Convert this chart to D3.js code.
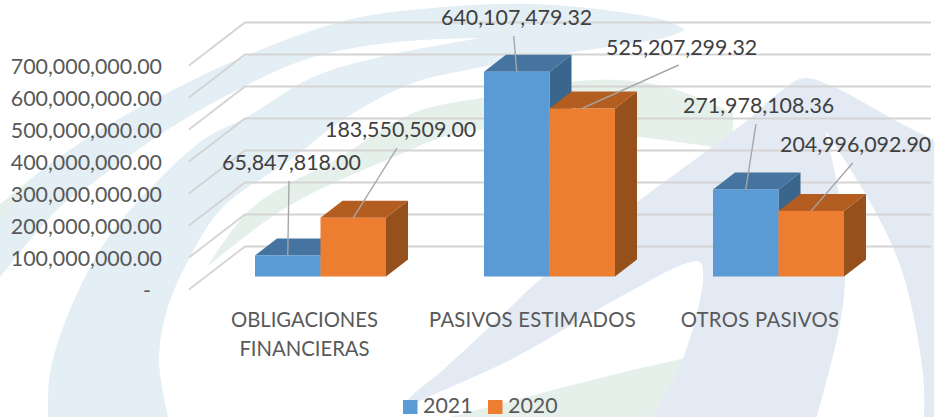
<!DOCTYPE html>
<html><head><meta charset="utf-8">
<script src="https://cdn.jsdelivr.net/npm/d3@7"></script>
<style>html,body{margin:0;padding:0;background:#fff}svg{display:block}text{font-family:Lato,"Open Sans",sans-serif}</style>
</head><body><svg id="c" width="934" height="417"></svg>
<script>
const categories = ["OBLIGACIONES FINANCIERAS","PASIVOS ESTIMADOS","OTROS PASIVOS"];
const seriesNames = ["2021","2020"];
const values2021 = [65847818.00,640107479.32,271978108.36];
const values2020 = [183550509.00,525207299.32,204996092.90];
const yTicks = [0,100000000,200000000,300000000,400000000,500000000,600000000,700000000];
const seriesColors = {
  "2021":{front:"#5b9bd5",top:"#44749f",side:"#3a658c"},
  "2020":{front:"#ed7d31",top:"#b35e20",side:"#96501b"}
};
// layout of data labels: [left, baseline, leader start x, leader start y]
const labelLayout = {
  "2021":[[222,170,289,181],[441,25,513.7,36],[683,113,756,124]],
  "2020":[[325,137,397,148],[606,55,678.7,65],[780,152,852.7,163]]
};
const categoryLabelCenters = [304.5,532.5,760];
const categoryLabelSpacing = [0,0.24,0.3];
const categoryLabelLines = [["OBLIGACIONES","FINANCIERAS"],["PASIVOS ESTIMADOS"],["OTROS PASIVOS"]];

// decorative watermark outlines: each shape is a list of smooth edges
const wmCorner = [[[0,204],[33,178]],[[33,178],[12,206],[0,219]]];
const wmBlue = [
  [[0,207],[33,177],[100,130],[167,93],[243,57],[347,20],[433,8],[533,4],[620,12],[670,22],[685,30]],
  [[685,30],[667,37],[567,53],[467,70],[413,83],[347,117],[290,160],[223,207],[190,257],[167,310],[159,360],[168,417]],
  [[168,417],[48,417]],
  [[48,417],[50,373],[67,317],[100,250],[133,207],[203,140],[247,117],[313,77],[380,57],[480,38]],
  [[480,38],[397,42],[313,57],[243,87],[167,130],[83,190],[60,207],[0,277]]
];
const wmGreen = [
  [[207,267],[253,207],[340,157],[413,113],[487,97],[594,80],[667,87],[733,113]],
  [[733,113],[733,150]],
  [[733,150],[600,133],[467,131],[387,160],[287,207],[207,267]]
];
const wmGreenLow = [[[450,417],[620,373],[690,357]],[[690,357],[653,417]]];
const wmGrey = [
  [[404,411],[408,400],[443,370],[497,320],[543,277],[640,200],[744,123],[785,88],[804,78],[834,87],[900,123],[934,140]],
  [[934,140],[934,417]],
  [[934,417],[924,417]],
  [[924,417],[923,374],[903,274],[873,207],[825,130]],
  [[825,130],[840,200],[845,277],[840,324],[817,417]],
  [[817,417],[653,417]],
  [[653,417],[683,359],[703,280],[700,262],[687,263],[620,297],[510,360],[412,405],[404,411]]
];

const svg = d3.select("#c");
const bg = svg.append("g");
const smooth = d3.line().curve(d3.curveCatmullRom.alpha(0.5));
const shapePath = edges => edges.map((e,i)=>{
  const d = smooth(e);
  return i===0 ? d : "L"+d.slice(1);
}).join("")+"Z";
[[wmBlue,"#e3eef5"],[wmCorner,"#e6f0eb"],[wmGreen,"#e6f0eb"],[wmGreenLow,"#e6f0eb"],[wmGrey,"#e3eaf3"]].forEach(([p,c])=>{
  bg.append("path").attr("d",shapePath(p)).attr("fill",c);
});

const y = d3.scaleLinear().domain([0,700000000]).range([276.5,52.5]);
const x0 = d3.scaleBand().domain(categories).range([255,844]).paddingInner(98/229).paddingOuter(0);
const x1 = d3.scaleBand().domain(seriesNames).range([0,x0.bandwidth()]);
const barDx = 22, barDy = -17;

// grid
const grid = svg.append("g").attr("fill","none").attr("stroke","#d5d3d3").attr("stroke-width",1.8);
yTicks.forEach(t=>{
  const yy = y(t);
  grid.append("path").attr("d",d3.line()([[189,yy+13],[245,yy-30],[931,yy-30]]));
});

// y axis labels
const fmt = d3.format(",.2f");
const axisG = svg.append("g").attr("fill","#595959").attr("font-size",21.4).attr("text-anchor","end");
yTicks.forEach(t=>{
  axisG.append("text").attr("x",t===0?151:162).attr("y",y(t)+21.5).text(t===0?"-":fmt(t));
});

// bars
categories.forEach((cat,ci)=>{
  seriesNames.forEach(s=>{
    const v = (s==="2021"?values2021:values2020)[ci];
    const c = seriesColors[s];
    const l = x0(cat)+x1(s), r = l+x1.bandwidth(), t = y(v), b = y(0);
    const g = svg.append("g");
    g.append("path").attr("fill",c.side).attr("d",d3.line()([[r,t],[r+barDx,t+barDy],[r+barDx,b+barDy],[r,b]])+"Z");
    g.append("path").attr("fill",c.top).attr("d",d3.line()([[l,t],[l+barDx,t+barDy],[r+barDx,t+barDy],[r,t]])+"Z");
    g.append("rect").attr("x",l).attr("y",t).attr("width",r-l).attr("height",b-t).attr("fill",c.front);
  });
});

// leaders and value labels
categories.forEach((cat,ci)=>{
  seriesNames.forEach(s=>{
    const v = (s==="2021"?values2021:values2020)[ci];
    const [lx,ly,sx,sy] = labelLayout[s][ci];
    const cx = x0(cat)+x1(s)+x1.bandwidth()/2;
    svg.append("line").attr("x1",sx).attr("y1",sy).attr("x2",cx).attr("y2",y(v))
      .attr("stroke","#a6a6a6").attr("stroke-width",1.4);
    svg.append("text").attr("x",lx).attr("y",ly).attr("fill","#404040").attr("font-size",21.4).text(fmt(v));
  });
});

// category labels
categoryLabelLines.forEach((lines,i)=>{
  lines.forEach((ln,j)=>{
    svg.append("text").attr("x",categoryLabelCenters[i]).attr("y",327+j*29).attr("text-anchor","middle")
      .attr("fill","#595959").attr("font-size",20.3).attr("letter-spacing",categoryLabelSpacing[i]).text(ln);
  });
});

// legend
const legendX = {"2021":403,"2020":488};
seriesNames.forEach(s=>{
  svg.append("rect").attr("x",legendX[s]).attr("y",400).attr("width",14.5).attr("height",14).attr("fill",seriesColors[s].front);
  svg.append("text").attr("x",legendX[s]+20).attr("y",413).attr("fill","#595959").attr("font-size",21.4).text(s);
});
</script></body></html>
